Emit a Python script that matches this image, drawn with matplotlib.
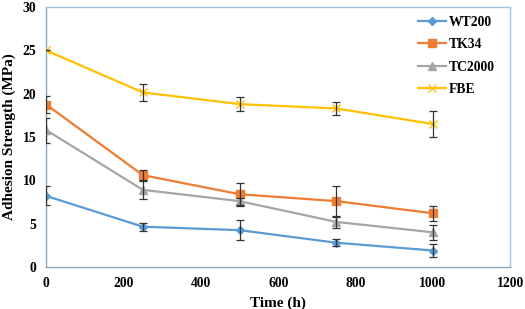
import numpy as np
import matplotlib
matplotlib.use("Agg")
import matplotlib.pyplot as plt

plt.rcParams['font.family'] = ['Liberation Serif', 'DejaVu Serif']
plt.rcParams['font.weight'] = 'bold'

time_h = [0, 250, 500, 750, 1000]

wt200 = [8.2, 4.65, 4.25, 2.8, 1.9]
wt200_err = [1.1, 0.45, 1.15, 0.4, 0.8]

tk34 = [18.75, 10.6, 8.4, 7.6, 6.2]
tk34_err = [0.95, 0.65, 1.35, 1.8, 0.85]

tc2000 = [15.8, 8.9, 7.6, 5.2, 4.0]
tc2000_err = [1.45, 1.1, 0.4, 0.7, 0.9]

fbe = [25.0, 20.15, 18.8, 18.3, 16.5]
fbe_err = [0.0, 0.95, 0.85, 0.7, 1.45]

series = [
	("WT200", wt200, wt200_err, "#5B9BD5", "D", 4),
	("TK34", tk34, tk34_err, "#ED7D31", "s", 6),
	("TC2000", tc2000, tc2000_err, "#A5A5A5", "^", 6),
	("FBE", fbe, fbe_err, "#FFC000", "x", 6),
]

fig = plt.figure(figsize=(5.25, 3.09), dpi=100)
ax = fig.add_axes([0.088, 0.136, 0.884, 0.841])

for name, vals, errs, col, mk, ms in series:
	ax.plot(time_h, vals, color=col, marker=mk, markersize=ms, lw=1.6,
		label=name, zorder=3)
	ax.errorbar(time_h, vals, yerr=errs, fmt='none', ecolor='#333333',
		elinewidth=0.9, capsize=3, capthick=0.9, zorder=4)

ax.set_xlim(0, 1200)
ax.set_ylim(0, 30)
ax.set_xticks(np.arange(0, 1201, 200))
ax.set_yticks(np.arange(0, 31, 5))
ax.tick_params(length=0, labelsize=9.8, pad=7)
for lab in ax.get_xticklabels() + ax.get_yticklabels():
	lab.set_fontweight('bold')

for s in ax.spines.values():
	s.set_color('#9DC3E6')
	s.set_linewidth(1.0)
ax.spines['left'].set_color('#8EA4BC')
ax.spines['bottom'].set_color('#8EA4BC')

ax.set_xlabel("Time (h)", fontsize=11, fontweight='bold', labelpad=5)
ax.set_ylabel("Adhesion Strength (MPa)", fontsize=11, fontweight='bold', labelpad=5)

leg = ax.legend(loc='upper right', bbox_to_anchor=(0.995, 1.02), frameon=False,
	handlelength=2.0, handletextpad=0.2, labelspacing=0.7, borderaxespad=0.6,
	prop={'weight': 'bold', 'size': 9.8})

fig.savefig("out.png", dpi=100)
